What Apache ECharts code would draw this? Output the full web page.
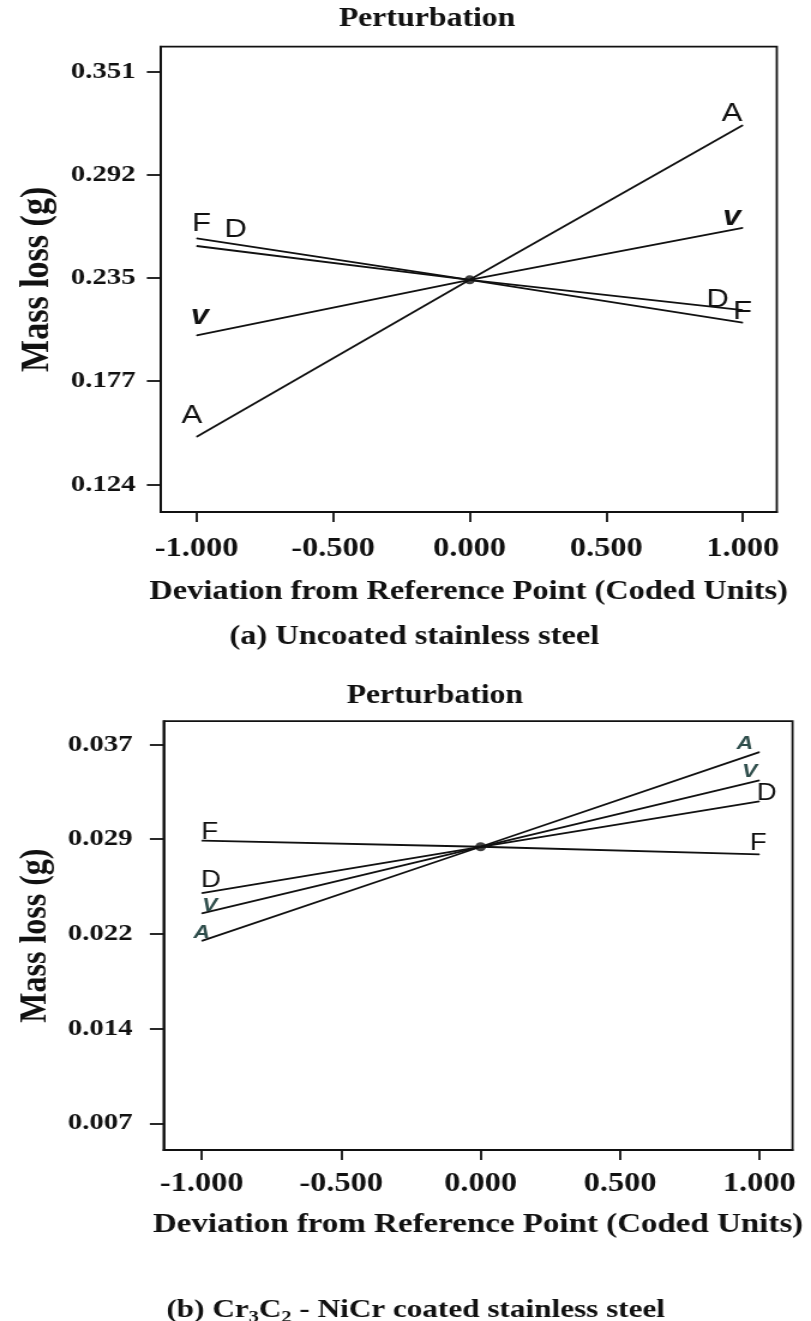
<!DOCTYPE html>
<html><head><meta charset="utf-8">
<script src="https://cdn.jsdelivr.net/npm/echarts@6/dist/echarts.min.js"></script>
<style>
html,body{margin:0;padding:0;background:#fff;overflow:hidden}
#wrap{width:811px;height:1321px;overflow:hidden;background:#fff}
#chart{width:676px;height:1321px;transform:scaleX(1.1997041);transform-origin:0 0}
</style></head><body><div id="wrap"><div id="chart"></div></div>
<script>
// ---------- data ----------
const xPoints = [-1, 0, 1];
const xTickValues = [-1, -0.5, 0, 0.5, 1];
const xTickLabels = ['-1.000', '-0.500', '0.000', '0.500', '1.000'];

// (a) Uncoated stainless steel
const uncoatedYTickValues = [0.124, 0.18075, 0.2375, 0.29425, 0.351];
const uncoatedYTickLabels = ['0.124', '0.177', '0.235', '0.292', '0.351'];
const uncoatedA = [0.1502, 0.2365, 0.3215];
const uncoatedV = [0.2059, 0.2365, 0.2651];
const uncoatedD = [0.2551, 0.2365, 0.2198];
const uncoatedF = [0.2593, 0.2365, 0.2129];
const uncoatedRef = [0, 0.2365];

// (b) Cr3C2-NiCr coated stainless steel
const coatedYTickValues = [0.007, 0.0145, 0.022, 0.0295, 0.037];
const coatedYTickLabels = ['0.007', '0.014', '0.022', '0.029', '0.037'];
const coatedA = [0.02145, 0.0289, 0.0364];
const coatedV = [0.02362, 0.0289, 0.03416];
const coatedD = [0.02523, 0.0289, 0.03249];
const coatedF = [0.02938, 0.0289, 0.0283];
const coatedRef = [0, 0.0289];

const panelTitle = 'Perturbation';
const yAxisTitle = 'Mass loss (g)';
const xAxisTitle = 'Deviation from Reference Point (Coded Units)';

// ---------- styles ----------
const SERIF = '"Liberation Serif","Times New Roman",serif';
const SANS = '"Liberation Sans",Arial,sans-serif';
const INK = '#111';
const TEAL = '#2e4d4b';

function mapLabel(ticks, labels) {
  return function (v) {
    let best = 0;
    for (let i = 1; i < ticks.length; i++) {
      if (Math.abs(ticks[i] - v) < Math.abs(ticks[best] - v)) best = i;
    }
    return labels[best];
  };
}

const fontBigSans = { fontFamily: SANS, fontSize: 26, color: INK };
const fontV = { fontFamily: SANS, fontSize: 27, fontWeight: 'bold', fontStyle: 'italic', color: INK };
const fontMidSans = { fontFamily: SANS, fontSize: 23, color: INK };
const fontTeal = { fontFamily: SANS, fontSize: 19, fontWeight: 'bold', fontStyle: 'italic', color: TEAL };

const panels = [
  {
    grid: { left: 133.9, top: 46.7, width: 513.6, height: 465.3 },
    xMin: -1.132, xMax: 1.125, yMin: 0.10876, yMax: 0.36475,
    yTicks: uncoatedYTickValues, yLabels: uncoatedYTickLabels,
    yLabelMargin: 21, xLabelMargin: 24, yNameGap: 86, xNameGap: 67,
    yNameSize: 34, xNameSize: 27,
    ref: uncoatedRef,
    lines: [
      { name: 'A', values: uncoatedA, font: fontBigSans, left: [-4, -21], right: [-9, -11] },
      { name: 'v', values: uncoatedV, font: fontV, left: [2.5, -19], right: [-9, -10.5] },
      { name: 'F', values: uncoatedF, font: fontBigSans, left: [4, -15], right: [0, -10.5] },
      { name: 'D', values: uncoatedD, font: fontBigSans, left: [32.5, -16], right: [-21, -10.5] }
    ]
  },
  {
    grid: { left: 136.4, top: 721.2, width: 524.2, height: 428.8 },
    xMin: -1.137, xMax: 1.119, yMin: 0.004885, yMax: 0.038845,
    yTicks: coatedYTickValues, yLabels: coatedYTickLabels,
    yLabelMargin: 26, xLabelMargin: 21, yNameGap: 90, xNameGap: 61,
    yNameSize: 32, xNameSize: 27.5,
    ref: coatedRef,
    lines: [
      { name: 'A', values: coatedA, font: fontTeal, left: [0, -8.4], right: [-12, -8.5] },
      { name: 'V', values: coatedV, font: fontTeal, left: [6.5, -7.6], right: [-8, -9] },
      { name: 'D', values: coatedD, font: fontMidSans, left: [7.5, -12], right: [6, -8] },
      { name: 'F', values: coatedF, font: fontMidSans, left: [6.5, -8.4], right: [-1, -11] }
    ]
  }
];

const grids = [], xAxes = [], yAxes = [], series = [];
panels.forEach(function (p, pi) {
  grids.push(Object.assign({ show: true, borderColor: INK, borderWidth: 1.8, backgroundColor: 'transparent' }, p.grid));
  xAxes.push({
    type: 'value', gridIndex: pi, min: p.xMin, max: p.xMax,
    axisLine: { show: true, onZero: false, lineStyle: { color: INK, width: 1.8 } },
    axisTick: { show: true, inside: false, length: 10, customValues: xTickValues, lineStyle: { color: INK, width: 1.8 } },
    axisLabel: { show: true, margin: p.xLabelMargin, customValues: xTickValues, formatter: mapLabel(xTickValues, xTickLabels),
      fontFamily: SERIF, fontWeight: 'bold', fontSize: 27, color: INK },
    splitLine: { show: false },
    name: xAxisTitle, nameLocation: 'middle', nameGap: p.xNameGap,
    nameTextStyle: { fontFamily: SERIF, fontWeight: 'bold', fontSize: p.xNameSize, color: INK }
  });
  yAxes.push({
    type: 'value', gridIndex: pi, min: p.yMin, max: p.yMax,
    axisLine: { show: true, onZero: false, lineStyle: { color: INK, width: 1.8 } },
    axisTick: { show: true, inside: false, length: 11.5, customValues: p.yTicks, lineStyle: { color: INK, width: 1.8 } },
    axisLabel: { show: true, margin: p.yLabelMargin, customValues: p.yTicks, formatter: mapLabel(p.yTicks, p.yLabels),
      fontFamily: SERIF, fontWeight: 'bold', fontSize: 24, color: INK },
    splitLine: { show: false },
    name: yAxisTitle, nameLocation: 'middle', nameGap: p.yNameGap, nameRotate: 90,
    nameTextStyle: { fontFamily: SERIF, fontWeight: 'bold', fontSize: p.yNameSize, color: INK }
  });
  p.lines.forEach(function (ln) {
    series.push({
      type: 'line', xAxisIndex: pi, yAxisIndex: pi, name: ln.name,
      symbol: 'circle', symbolSize: 1, showSymbol: true,
      lineStyle: { color: INK, width: 1.8 }, itemStyle: { color: INK },
      silent: true, animation: false,
      data: xPoints.map(function (x, i) {
        const item = { value: [x, ln.values[i]] };
        const off = i === 0 ? ln.left : (i === xPoints.length - 1 ? ln.right : null);
        if (off) {
          item.label = Object.assign({ show: true, position: 'inside', offset: off, formatter: ln.name }, ln.font);
        }
        return item;
      })
    });
  });
  series.push({
    type: 'scatter', xAxisIndex: pi, yAxisIndex: pi, symbol: 'circle', symbolSize: 9,
    itemStyle: { color: INK }, silent: true, animation: false, data: [p.ref], z: 5
  });
});

const titleFont = 'bold 26.5px ' + SERIF;
const graphics = [
  { type: 'text', x: 356, y: 19, style: { text: panelTitle, font: titleFont, fill: INK, textAlign: 'center', textVerticalAlign: 'middle' } },
  { type: 'text', x: 362.5, y: 696, style: { text: panelTitle, font: titleFont, fill: INK, textAlign: 'center', textVerticalAlign: 'middle' } },
  { type: 'text', x: 345.4, y: 637, style: { text: '(a) Uncoated stainless steel', font: 'bold 27px ' + SERIF, fill: INK, textAlign: 'center', textVerticalAlign: 'middle' } },
  { type: 'text', x: 346.5, y: 1308, style: {
      text: '{t|(b) Cr}{s|3}{t|C}{s|2}{t| - NiCr coated stainless steel}',
      textAlign: 'center', textVerticalAlign: 'middle', fill: INK,
      rich: {
        t: { fontFamily: SERIF, fontWeight: 'bold', fontSize: 26, lineHeight: 30, verticalAlign: 'bottom', color: INK },
        s: { fontFamily: SERIF, fontWeight: 'bold', fontSize: 17, lineHeight: 17, verticalAlign: 'bottom', padding: [0, 0, -3, 0], color: INK }
      }
  } }
];

const chart = echarts.init(document.getElementById('chart'), null, { renderer: 'canvas' });
chart.setOption({
  backgroundColor: '#fff',
  animation: false,
  grid: grids, xAxis: xAxes, yAxis: yAxes, series: series, graphic: graphics
});
</script></body></html>
